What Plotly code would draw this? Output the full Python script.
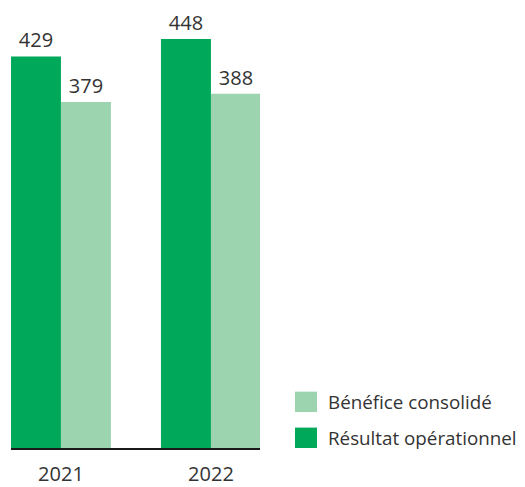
import plotly.graph_objects as go

years = ["2021", "2022"]
resultat_operationnel = [429, 448]
benefice_consolide = [379, 388]
series_names = ["Résultat opérationnel", "Bénéfice consolidé"]

DARK = "#00A85A"
LIGHT = "#9DD4B0"
TEXT = "#333333"
FONT = "Open Sans"

# page body has an 8px margin, so the figure is drawn 8px smaller and offset
OFF = 8
W, H = 525 - OFF, 487 - OFF
L, R, T, B = 11 - OFF, 265, 0, 26
PW, PH = W - L - R, H - T - B


def px(x):
    return (x - OFF - L) / PW


def py(y):
    return (H - B - (y - OFF)) / PH


fig = go.Figure()
fig.add_trace(go.Bar(
    x=years, y=resultat_operationnel, name=series_names[0],
    marker=dict(color=DARK, line=dict(width=0)),
    text=[str(v) for v in resultat_operationnel], textposition="outside",
    textfont=dict(size=20, color=TEXT, family=FONT), cliponaxis=False,
    showlegend=False,
))
fig.add_trace(go.Bar(
    x=years, y=benefice_consolide, name=series_names[1],
    marker=dict(color=LIGHT, line=dict(width=0)),
    text=[str(v) for v in benefice_consolide], textposition="outside",
    textfont=dict(size=20, color=TEXT, family=FONT), cliponaxis=False,
    showlegend=False,
))

# custom legend (Bénéfice consolidé on top)
legend_items = [(series_names[1], LIGHT, 403), (series_names[0], DARK, 440)]
for name, col, top in legend_items:
    fig.add_shape(type="rect", xref="paper", yref="paper",
                  x0=px(295), x1=px(317), y0=py(top + 21), y1=py(top),
                  fillcolor=col, line=dict(width=0))
    fig.add_annotation(xref="paper", yref="paper", x=px(326), y=py(top + 10.5),
                       text=name, showarrow=False, xanchor="left", yanchor="middle",
                       font=dict(size=18.8, color=TEXT, family=FONT))

fig.update_layout(
    width=W, height=H,
    margin=dict(l=L, r=R, t=T, b=B, pad=0),
    paper_bgcolor="white", plot_bgcolor="white",
    barmode="group", bargap=1/3, bargroupgap=0,
    showlegend=False,
    font=dict(family=FONT, color=TEXT),
    xaxis=dict(range=[-0.333, 1.327], showline=True, linecolor="#1a1a1a", linewidth=1.5,
               ticks="", showgrid=False, zeroline=False, ticklabelstandoff=7,
               tickfont=dict(size=20, color=TEXT, family=FONT)),
    yaxis=dict(range=[0, 482], visible=False, showgrid=False, zeroline=False),
)

fig.write_html("out.html")
